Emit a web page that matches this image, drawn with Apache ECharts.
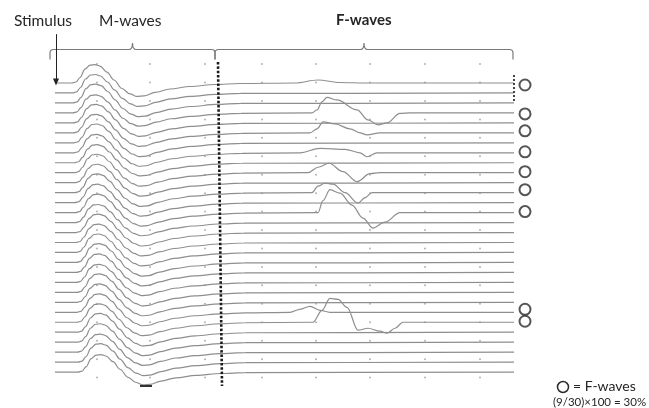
<!DOCTYPE html>
<html>
<head>
<meta charset="utf-8">
<script src="https://cdn.jsdelivr.net/npm/echarts@6/dist/echarts.min.js"></script>
<style>
html,body{margin:0;padding:0;background:#fff;}
#chart{width:649px;height:408px;}
</style>
</head>
<body>
<div id="chart"></div>
<script>
// time in ms after the stimulus, amplitude in mV (one trace spacing = 1 mV)
const traceCount = 30;
const sweepEnd = 45.9;

// M-wave shape
const mWaveTime = [0, 1.7, 2.1, 2.5, 3.0, 3.5, 4.0, 4.5, 5.2, 5.9, 6.7, 7.5, 8.2, 8.9, 10.0, 11.5, 13.5, 16.0, 18.5];
const mWaveAmp  = [0, 0, 0.1, 0.55, 1.4, 1.8, 1.85, 1.7, 1.1, 0.3, -0.55, -1.1, -1.35, -1.3, -0.95, -0.6, -0.35, -0.15, -0.05];

// per trace M-wave latency shift (ms) and gain
const mLatency = [0, 0.05, 0.1, 0.1, 0.15, 0.15, 0.2, 0.2, 0.25, 0.25, 0.3, 0.3, 0.3, 0.35, 0.35,
                  0.4, 0.4, 0.4, 0.45, 0.45, 0.45, 0.5, 0.5, 0.5, 0.5, 0.55, 0.55, 0.55, 0.6, 0.6];
const mGain = [1.0, 1.0, 1.02, 0.98, 1.0, 1.0, 1.02, 1.0, 0.98, 1.0, 1.0, 1.02, 1.0, 1.0, 0.98,
               1.0, 1.0, 1.0, 1.02, 1.0, 0.98, 1.0, 1.0, 1.0, 1.0, 1.02, 1.0, 0.98, 1.0, 0.95];

// F-waves: which trace, then time / amplitude key points
const fTraces = [0, 3, 5, 7, 9, 11, 13, 23, 24];
const fTimes = [
  [24, 26.3, 28.5, 31],
  [25.7, 26.2, 26.7, 27.2, 28.2, 30.2, 31.3, 32.3, 33.2, 34.5, 35.5],
  [25.5, 26.2, 26.8, 28.0, 29.5, 30.5, 31.2, 32.5],
  [24.5, 26.5, 29.0, 30.5, 31.2, 32.2],
  [25.3, 26.3, 27.4, 28.8, 30.2, 31.5, 32.5],
  [25.7, 26.3, 27.0, 27.8, 29.0, 30.3, 31.0, 31.7, 32.5],
  [26.3, 26.8, 27.5, 28.5, 29.7, 30.8, 31.8, 33.0, 34.5],
  [23.5, 24.5, 25.5, 26.5, 27.5],
  [25.8, 26.7, 27.5, 28.3, 29.2, 30.3, 31.3, 32.5, 33.2, 34.0, 34.8]
];
const fAmps = [
  [0, 0.3, 0.05, 0],
  [0, 0.3, 1.1, 1.55, 1.3, 0.3, -0.7, -1.2, -1.0, -0.05, 0],
  [0, 0.4, 1.1, 0.9, 0.4, 0, -0.2, 0],
  [0, 0.45, 0.35, 0, -0.4, 0],
  [0, 0.55, 0.95, 0.1, -0.9, -0.1, 0],
  [0, 0.65, 0.95, 0.85, 0, -1.05, -0.5, 0, 0],
  [0, 1.2, 2.3, 1.95, 0.75, -0.55, -1.55, -0.95, 0],
  [0, 0.3, 0.6, 0.2, 0],
  [0, 1.2, 2.4, 2.3, 1.5, -0.8, -0.6, -0.9, -1.1, -0.6, 0]
];

// circle markers (trace rows with an F-wave)
const circleTime = 47.0;
const circleRows = [0.2, 3.1, 4.8, 6.9, 8.9, 10.7, 12.9, 22.7, 23.9];

// faint grid dots
const dotCols = [4.2, 9.5, 15.0, 20.7, 26.1, 31.5, 37.0, 42.5];
const dotRows = [-1.9, -0.05, 1.8, 3.65, 5.5, 7.35, 9.2, 11.05, 12.9, 14.75, 16.6, 18.45,
                 20.3, 22.15, 24.0, 25.85, 27.7, 29.55];

// windows for the braces
const braceSpans = [[-0.5, 16.0], [16.0, 45.8]];
const braceLevel = -3.36;

// dotted marker lines
const windowLine = [[16.3, -2.1], [16.7, 30.4]];
const endLine = [[45.9, -0.8], [45.9, 1.9]];
const cursorMark = [[8.5, 30.4], [9.7, 30.4]];
const stimulusArrow = [[0.1, -4.9], [0.1, -0.1]];

function buildTrace(i) {
  const pts = [[0, i]];
  for (let k = 1; k < mWaveTime.length; k++) {
    pts.push([mWaveTime[k] + mLatency[i], i - mWaveAmp[k] * mGain[i]]);
  }
  const f = fTraces.indexOf(i);
  if (f >= 0) {
    fTimes[f].forEach((t, k) => pts.push([t, i - fAmps[f][k]]));
  }
  pts.push([sweepEnd, i]);
  return pts;
}

const series = [];
for (let i = 0; i < traceCount; i++) {
  const s = {
    type: 'line',
    data: buildTrace(i),
    symbol: 'none',
    smooth: 0.35,
    smoothMonotone: 'x',
    silent: true,
    z: 3,
    lineStyle: { color: '#8e8e8e', width: 1.2 }
  };
  if (i === 0) {
    s.markLine = {
      silent: true,
      symbol: ['none', 'triangle'],
      symbolSize: [6, 7],
      label: { show: false },
      lineStyle: { color: '#222', width: 1, type: 'solid' },
      data: [[{ coord: stimulusArrow[0] }, { coord: stimulusArrow[1] }]]
    };
  }
  series.push(s);
}

const dotData = [];
dotRows.forEach(r => dotCols.forEach(c => dotData.push([c, r])));
series.push({
  type: 'scatter', data: dotData, symbolSize: 2, silent: true, z: 1,
  itemStyle: { color: '#a0a0a0' }
});

series.push({
  type: 'scatter', data: circleRows.map(r => [circleTime, r]),
  symbol: 'emptyCircle', symbolSize: 11, silent: true, clip: false,
  itemStyle: { color: '#2a2a2a', borderWidth: 1.5 }
});

series.push({
  type: 'line', data: windowLine, symbol: 'none', silent: true, z: 4,
  lineStyle: { color: '#1a1a1a', width: 2.6, type: [2.5, 1.8], cap: 'butt' }
});
series.push({
  type: 'line', data: endLine, symbol: 'none', silent: true, z: 4,
  lineStyle: { color: '#444', width: 2, type: [2, 2], cap: 'butt' }
});
series.push({
  type: 'line', data: cursorMark, symbol: 'none', silent: true, z: 4,
  lineStyle: { color: '#333', width: 2 }
});

series.push({
  type: 'custom',
  coordinateSystem: 'cartesian2d',
  silent: true,
  data: braceSpans.map(b => [b[0], b[1], braceLevel]),
  encode: { x: [0, 1], y: 2 },
  renderItem: function (params, api) {
    const a = api.coord([api.value(0), api.value(2)]);
    const b = api.coord([api.value(1), api.value(2)]);
    const y = a[1], x0 = a[0], x1 = b[0], xm = (x0 + x1) / 2;
    const d = 10, c = 6.5, r = 3.5;
    const path = 'M' + x0 + ',' + (y + d) + ' L' + x0 + ',' + (y + r) +
      ' Q' + x0 + ',' + y + ' ' + (x0 + r) + ',' + y +
      ' L' + (xm - r) + ',' + y +
      ' Q' + xm + ',' + y + ' ' + xm + ',' + (y - c) +
      ' Q' + xm + ',' + y + ' ' + (xm + r) + ',' + y +
      ' L' + (x1 - r) + ',' + y +
      ' Q' + x1 + ',' + y + ' ' + x1 + ',' + (y + r) +
      ' L' + x1 + ',' + (y + d);
    return {
      type: 'path',
      shape: { pathData: path },
      style: { fill: null, stroke: '#7a7a7a', lineWidth: 1.2 }
    };
  }
});

const chart = echarts.init(document.getElementById('chart'));
const font = 'Lato, "Open Sans", sans-serif';
chart.setOption({
  animation: false,
  backgroundColor: '#fff',
  grid: { left: 55, right: 114, top: 33.15, bottom: 6 },
  xAxis: { type: 'value', min: 0, max: 48, show: false },
  yAxis: { type: 'value', min: -5, max: 32, inverse: true, show: false },
  graphic: [
    { type: 'text', left: 14, top: 13, style: { text: 'Stimulus', font: '15.5px ' + font, fill: '#262626' } },
    { type: 'text', left: 99, top: 13, style: { text: 'M-waves', font: '15.5px ' + font, fill: '#262626' } },
    { type: 'text', left: 336, top: 13, style: { text: 'F-waves', font: 'bold 15px ' + font, fill: '#262626' } },
    { type: 'circle', shape: { cx: 563, cy: 387, r: 5.5 }, style: { fill: 'none', stroke: '#2a2a2a', lineWidth: 1.5 } },
    { type: 'text', left: 573, top: 379, style: { text: '= F-waves', font: '14px ' + font, fill: '#262626' } },
    { type: 'text', left: 553, top: 396, style: { text: '(9/30)\u00d7100 = 30%', font: '11.5px ' + font, fill: '#262626' } }
  ],
  series: series
});
</script>
</body>
</html>
